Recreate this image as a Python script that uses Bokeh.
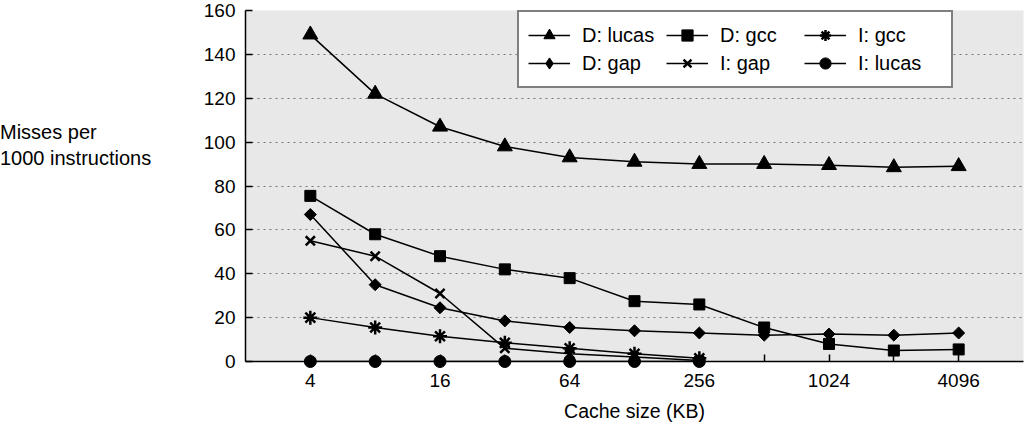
import math
from bokeh.plotting import figure
from bokeh.models import FixedTicker, Legend, LegendItem, Range1d, Div
from bokeh.layouts import row
from bokeh.embed import file_html
from bokeh.resources import INLINE

# ---- data ----
sizes_d = [4, 8, 16, 32, 64, 128, 256, 512, 1024, 2048, 4096]
sizes_i = [4, 8, 16, 32, 64, 128, 256]
d_lucas = [149, 122, 107, 98, 93, 91, 90, 90, 89.5, 88.5, 89]
d_gcc = [75.5, 58, 48, 42, 38, 27.5, 26, 15.5, 8, 5, 5.5]
d_gap = [67, 35, 24.5, 18.5, 15.5, 14, 13, 12, 12.5, 12, 13]
i_gap = [55, 48, 31, 6, 3.5, 2, 0.5]
i_gcc = [20, 15.5, 11.5, 8.5, 6, 3.5, 1.5]
i_lucas = [0, 0, 0, 0, 0, 0, 0]
x_major = [4, 16, 64, 256, 1024, 4096]
x_minor = [8, 32, 128, 512, 2048]
y_ticks = [0, 20, 40, 60, 80, 100, 120, 140, 160]
y_title = ["Misses per", "1000 instructions"]

FONT = "Liberation Sans"

p = figure(width=824, height=430, output_backend="svg", toolbar_location=None,
           x_axis_type="log", x_range=Range1d(2, 8192), y_range=Range1d(0, 160),
           min_border_left=43, min_border_right=1, min_border_top=10, min_border_bottom=69)
p.background_fill_color = "#e8e8e8"
p.border_fill_color = "white"
p.outline_line_color = None

p.xgrid.visible = False
p.ygrid.ticker = FixedTicker(ticks=y_ticks)
p.ygrid.grid_line_color = "#777777"
p.ygrid.grid_line_dash = "2 4"
p.ygrid.grid_line_width = 1

xa = p.xaxis[0]
xa.ticker = FixedTicker(ticks=x_major, minor_ticks=x_minor)
xa.major_label_overrides = {v: str(v) for v in x_major}
xa.major_tick_in = 7
xa.major_tick_out = 0
xa.minor_tick_in = 7
xa.minor_tick_out = 0
xa.major_label_standoff = 12
xa.axis_label = "Cache size (KB)"
xa.axis_label_standoff = 10
xa.axis_label_text_font = FONT
xa.axis_label_text_font_size = "19.5px"
xa.axis_label_text_font_style = "normal"
xa.major_label_text_font = FONT
xa.major_label_text_font_size = "19px"

ya = p.yaxis[0]
ya.ticker = FixedTicker(ticks=y_ticks)
ya.major_tick_in = 7
ya.major_tick_out = 0
ya.minor_tick_in = 0
ya.minor_tick_out = 0
ya.major_label_standoff = 10
ya.major_label_text_font = FONT
ya.major_label_text_font_size = "19px"

for ax in (xa, ya):
    ax.axis_line_color = "black"
    ax.axis_line_width = 1.5
    ax.major_tick_line_color = "black"
    ax.major_tick_line_width = 1.5
    ax.minor_tick_line_color = "black"
    ax.minor_tick_line_width = 1.5
    ax.major_label_text_color = "black"
    ax.axis_label_text_color = "black"

def series(xs, ys, marker, size, angle=0.0, lw=1):
    l = p.line(xs, ys, line_color="black", line_width=1.5)
    s = p.scatter(xs, ys, marker=marker, size=size, angle=angle,
                  fill_color="black", line_color="black", line_width=lw,
                  level="overlay")
    return [l, s]

r_dlucas = series(sizes_d, d_lucas, "triangle", 15)
r_dgcc = series(sizes_d, d_gcc, "square", 11)
r_dgap = series(sizes_d, d_gap, "square", 8.5, angle=math.pi / 4)
r_igap = series(sizes_i, i_gap, "x", 13, lw=2.5)
r_igcc = series(sizes_i, i_gcc, "asterisk", 14, lw=2.5)
r_ilucas = series(sizes_i, i_lucas, "circle", 12)

# hidden renderer only used to draw a diamond in the legend
dgap_legend = p.scatter(sizes_d, d_gap, marker="diamond", size=12,
                        fill_color="black", line_color="black", visible=False)

legend = Legend(items=[
    LegendItem(label="D: lucas", renderers=r_dlucas),
    LegendItem(label="D: gap", renderers=[r_dgap[0], dgap_legend]),
    LegendItem(label="D: gcc", renderers=r_dgcc),
    LegendItem(label="I: gap", renderers=r_igap),
    LegendItem(label="I: gcc", renderers=r_igcc),
    LegendItem(label="I: lucas", renderers=r_ilucas),
], ncols=3, location=(272, 273))
legend.label_text_font = FONT
legend.label_text_font_size = "20px"
legend.label_text_color = "black"
legend.glyph_width = 42
legend.glyph_height = 28
legend.label_standoff = 12
legend.label_width = 84
legend.label_height = 20
legend.spacing = 0
legend.padding = 9
legend.margin = 0
legend.border_line_color = "black"
legend.border_line_width = 2
legend.background_fill_color = "white"
legend.background_fill_alpha = 1
p.add_layout(legend)

div = Div(text=(
    "<div style=\"font-family:'Liberation Sans';font-size:20px;line-height:26px;"
    "padding-top:119px;white-space:nowrap;color:black;margin:0\">"
    + "<br>".join(y_title) + "</div>"),
    width=200, height=430, margin=0)

layout = row(div, p, spacing=0)
open("out.html", "w").write(file_html(layout, INLINE))
